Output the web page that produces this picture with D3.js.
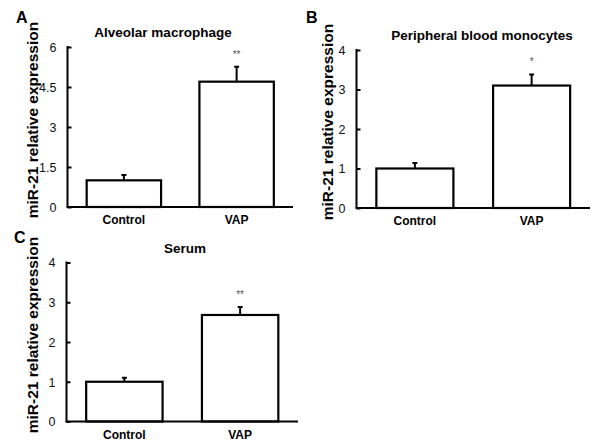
<!doctype html>
<html>
  <head>
    <meta charset="utf-8">
    <script src="https://cdn.jsdelivr.net/npm/d3@7/dist/d3.min.js"></script>
    <style>
      body { margin: 0; background: #fff; }
      text { font-family: "Liberation Sans", Arial, sans-serif; fill: #000; }
    </style>
  </head>
  <body>
    <div id="chart"></div>
    <script>
      const categories = ["Control", "VAP"];

      const alveolarMean = [1.0, 4.7],
        alveolarErr = [0.2, 0.56],
        alveolarTicks = [0, 1.5, 3, 4.5, 6],
        alveolarSig = ["", "**"];

      const peripheralMean = [1.0, 3.1],
        peripheralErr = [0.14, 0.28],
        peripheralTicks = [0, 1, 2, 3, 4],
        peripheralSig = ["", "*"];

      const serumMean = [1.0, 2.68],
        serumErr = [0.1, 0.2],
        serumTicks = [0, 1, 2, 3, 4],
        serumSig = ["", "**"];

      const panels = [
        { letter: "A", title: "Alveolar macrophage", mean: alveolarMean, err: alveolarErr,
          ticks: alveolarTicks, sig: alveolarSig, max: 6,
          x0: 67.5, x1: 293, y0: 207, y1: 47, lx: 16, ly: 23, labelX: 33, titleX: 163 },
        { letter: "B", title: "Peripheral blood monocytes", mean: peripheralMean, err: peripheralErr,
          ticks: peripheralTicks, sig: peripheralSig, max: 4,
          x0: 356.5, x1: 590, y0: 208, y1: 50, lx: 306, ly: 23, labelX: 328, titleX: 482 },
        { letter: "C", title: "Serum", mean: serumMean, err: serumErr,
          ticks: serumTicks, sig: serumSig, max: 4,
          x0: 66.5, x1: 298, y0: 421.5, y1: 262.5, lx: 14, ly: 243, labelX: 33, titleX: 185 }
      ];

      const svg = d3.select("#chart").append("svg")
        .attr("width", 592)
        .attr("height", 441);

      panels.forEach(function(p) {
        const g = svg.append("g");

        const x = d3.scaleBand()
          .domain(categories)
          .range([p.x0, p.x1])
          .paddingInner(0.34)
          .paddingOuter(0.17);

        const y = d3.scaleLinear()
          .domain([0, p.max])
          .range([p.y0, p.y1]);

        // y axis, ticks pointing inward
        const yAxis = g.append("g")
          .attr("transform", "translate(" + p.x0 + ",0)")
          .call(d3.axisRight(y).tickValues(p.ticks).tickSize(4).tickFormat(d3.format("")));
        yAxis.select(".domain").remove();
        yAxis.selectAll("line").attr("stroke", "#000").attr("stroke-width", 2);
        yAxis.selectAll("text")
          .attr("x", -11)
          .attr("text-anchor", "end")
          .attr("font-size", 12.5)
          .attr("dy", "0.35em")
          .style("fill", "#111");

        g.append("line")
          .attr("x1", p.x0).attr("x2", p.x0)
          .attr("y1", y(p.max) - 1).attr("y2", p.y0)
          .attr("stroke", "#000").attr("stroke-width", 2);

        // bars
        g.selectAll("rect.bar")
          .data(categories)
          .join("rect")
          .attr("class", "bar")
          .attr("x", d => x(d))
          .attr("width", x.bandwidth())
          .attr("y", (d, i) => y(p.mean[i]))
          .attr("height", (d, i) => p.y0 - y(p.mean[i]))
          .attr("fill", "#fff")
          .attr("stroke", "#000")
          .attr("stroke-width", 2.2);

        // error bars
        const eb = g.selectAll("g.err")
          .data(categories)
          .join("g")
          .attr("class", "err");
        eb.append("line")
          .attr("x1", d => x(d) + x.bandwidth() / 2)
          .attr("x2", d => x(d) + x.bandwidth() / 2)
          .attr("y1", (d, i) => y(p.mean[i]))
          .attr("y2", (d, i) => y(p.mean[i] + p.err[i]))
          .attr("stroke", "#000").attr("stroke-width", 2);
        eb.append("line")
          .attr("x1", d => x(d) + x.bandwidth() / 2 - 2.5)
          .attr("x2", d => x(d) + x.bandwidth() / 2 + 2.5)
          .attr("y1", (d, i) => y(p.mean[i] + p.err[i]))
          .attr("y2", (d, i) => y(p.mean[i] + p.err[i]))
          .attr("stroke", "#000").attr("stroke-width", 2);

        // significance marks
        g.selectAll("text.sig")
          .data(categories)
          .join("text")
          .attr("class", "sig")
          .attr("x", d => x(d) + x.bandwidth() / 2)
          .attr("y", (d, i) => y(p.mean[i] + p.err[i]) - 9)
          .attr("text-anchor", "middle")
          .attr("font-size", 10)
          .style("fill", "#555")
          .text((d, i) => p.sig[i]);

        // baseline
        g.append("line")
          .attr("x1", p.x0 - 1).attr("x2", p.x1)
          .attr("y1", p.y0).attr("y2", p.y0)
          .attr("stroke", "#000").attr("stroke-width", 2);

        // category labels
        g.selectAll("text.cat")
          .data(categories)
          .join("text")
          .attr("class", "cat")
          .attr("x", d => x(d) + x.bandwidth() / 2)
          .attr("y", p.y0 + 17)
          .attr("text-anchor", "middle")
          .attr("font-size", 12)
          .attr("font-weight", "bold")
          .text(d => d);

        // title
        g.append("text")
          .attr("x", p.titleX)
          .attr("y", p.y1 - 10)
          .attr("text-anchor", "middle")
          .attr("font-size", 13.5)
          .attr("font-weight", "bold")
          .text(p.title);

        // y label
        g.append("text")
          .attr("transform", "translate(" + (p.labelX + 5) + "," + ((p.y0 + p.y1) / 2 - 7) + ") rotate(-90)")
          .attr("text-anchor", "middle")
          .attr("font-size", 15.5)
          .attr("font-weight", "bold")
          .text("miR-21 relative expression");

        // panel letter
        g.append("text")
          .attr("x", p.lx)
          .attr("y", p.ly)
          .attr("font-size", 16)
          .attr("font-weight", "bold")
          .text(p.letter);
      });
    </script>
  </body>
</html>
